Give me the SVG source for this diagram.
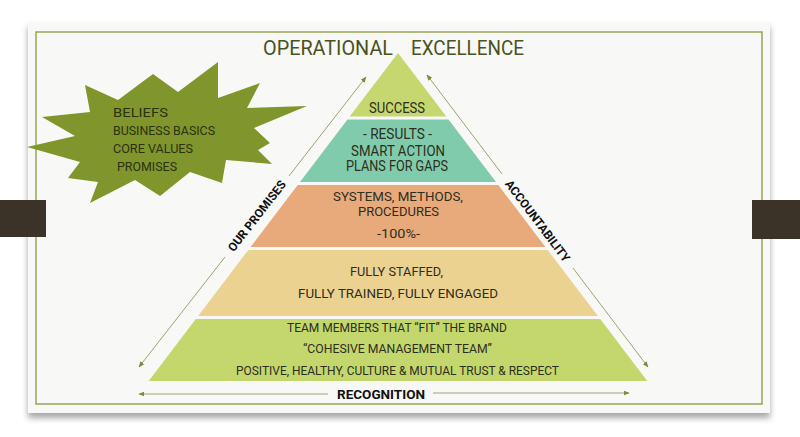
<svg xmlns="http://www.w3.org/2000/svg" width="800" height="437" viewBox="0 0 800 437">
<defs>
<filter id="sh" x="-5%" y="-5%" width="110%" height="115%">
<feDropShadow dx="0" dy="5" stdDeviation="3" flood-color="#000" flood-opacity="0.35"/>
</filter>
<marker id="ah" viewBox="0 0 10 10" refX="9" refY="5" markerWidth="6" markerHeight="6" orient="auto" markerUnits="userSpaceOnUse">
<path d="M0,1 L10,5 L0,9 z" fill="#7d8a3a"/>
</marker>
</defs>
<style>
.t{font-family:Roboto,"Liberation Sans",sans-serif;fill:#2e2e1e;text-anchor:middle}
.tt{font-family:Roboto,"Liberation Sans",sans-serif;fill:#4a5320;font-size:20px}
.sb{font-family:Roboto,"Liberation Sans",sans-serif;fill:#2c3210;font-size:13px}
.lb{font-family:Roboto,"Liberation Sans",sans-serif;fill:#111;font-size:12px;font-weight:bold;text-anchor:middle;dominant-baseline:central}
.cn{stroke:#9ea373;stroke-width:1;fill:none;marker-end:url(#ah)}
</style>
<rect width="800" height="437" fill="#ffffff"/>
<g id="card">
<rect x="28" y="22" width="742" height="391" fill="#f8f8f7" filter="url(#sh)"/>
<rect x="36" y="32" width="726" height="372" fill="none" stroke="#9aa257" stroke-width="1.5"/>
</g>
<g id="bars">
<rect x="0" y="200" width="46" height="37" fill="#3b3228"/>
<rect x="752" y="200" width="48" height="39" fill="#3b3228"/>
</g>
<g id="title">
<text class="tt" x="263" y="55" textLength="130" lengthAdjust="spacingAndGlyphs">OPERATIONAL</text>
<text class="tt" x="411" y="55" textLength="113" lengthAdjust="spacingAndGlyphs">EXCELLENCE</text>
</g>
<g id="starburst">
<polygon points="85,85 118,100 153,74 178,92 218,62 218,98 260,83 247,108 307,106 254,128 270,143 258,150 272,164 226,160 222,183 190,172 160,196 135,180 90,203 98,182 68,178 80,162 27,147 75,136 42,117 90,112" fill="#80952b"/>
<text class="sb" x="113" y="117" textLength="55" lengthAdjust="spacingAndGlyphs">BELIEFS</text>
<text class="sb" x="113" y="135" textLength="102" lengthAdjust="spacingAndGlyphs">BUSINESS BASICS</text>
<text class="sb" x="113" y="153" textLength="80" lengthAdjust="spacingAndGlyphs">CORE VALUES</text>
<text class="sb" x="117" y="171" textLength="60" lengthAdjust="spacingAndGlyphs">PROMISES</text>
</g>
<g id="success">
<polygon points="398,53 446.3,116.5 349.7,116.5" fill="#c5d76e"/>
<text class="t" x="397" y="113" font-size="14" textLength="56" lengthAdjust="spacingAndGlyphs">SUCCESS</text>
</g>
<g id="results">
<polygon points="347.5,119.5 448.5,119.5 496,182 300,182" fill="#80cbab"/>
<text class="t" x="397.5" y="139" font-size="14" textLength="69" lengthAdjust="spacingAndGlyphs">- RESULTS -</text>
<text class="t" x="398" y="156" font-size="14" textLength="94" lengthAdjust="spacingAndGlyphs">SMART ACTION</text>
<text class="t" x="397" y="171" font-size="14" textLength="102" lengthAdjust="spacingAndGlyphs">PLANS FOR GAPS</text>
</g>
<g id="systems">
<polygon points="297.7,185 498.3,185 545.4,247 250.6,247" fill="#e9aa7b"/>
<text class="t" x="398" y="201" font-size="13.5" textLength="130" lengthAdjust="spacingAndGlyphs">SYSTEMS, METHODS,</text>
<text class="t" x="398.5" y="216" font-size="13.5" textLength="81" lengthAdjust="spacingAndGlyphs">PROCEDURES</text>
<text class="t" x="398.5" y="238" font-size="13.5" textLength="43" lengthAdjust="spacingAndGlyphs">-100%-</text>
</g>
<g id="staffed">
<polygon points="248.3,250 547.7,250 597.9,316 198.1,316" fill="#ebd290"/>
<text class="t" x="396.5" y="276" font-size="13.5" textLength="93" lengthAdjust="spacingAndGlyphs">FULLY STAFFED,</text>
<text class="t" x="398" y="298" font-size="13.5" textLength="200" lengthAdjust="spacingAndGlyphs">FULLY TRAINED, FULLY ENGAGED</text>
</g>
<g id="team">
<polygon points="195.8,319 600.2,319 647.3,381 148.7,381" fill="#c3d76c"/>
<text class="t" x="397" y="332" font-size="12" textLength="220" lengthAdjust="spacingAndGlyphs">TEAM MEMBERS THAT “FIT” THE BRAND</text>
<text class="t" x="397.5" y="353" font-size="12" textLength="189" lengthAdjust="spacingAndGlyphs">“COHESIVE MANAGEMENT TEAM”</text>
<text class="t" x="397.5" y="375" font-size="12" textLength="323" lengthAdjust="spacingAndGlyphs">POSITIVE, HEALTHY, CULTURE &amp; MUTUAL TRUST &amp; RESPECT</text>
</g>
<g id="connectors">
<line class="cn" x1="225" y1="257" x2="139" y2="367"/>
<line class="cn" x1="289" y1="176" x2="366" y2="77"/>
<line class="cn" x1="502" y1="174" x2="427" y2="75"/>
<line class="cn" x1="573" y1="268" x2="648" y2="367"/>
<line class="cn" x1="328" y1="394" x2="139" y2="394"/>
<line class="cn" x1="433" y1="393" x2="629" y2="393"/>
</g>
<g id="our-promises">
<text class="lb" transform="translate(257,216) rotate(-52)">OUR PROMISES</text>
</g>
<g id="accountability">
<text class="lb" transform="translate(537.5,221) rotate(53)">ACCOUNTABILITY</text>
</g>
<g id="recognition">
<text class="lb" x="381" y="395" font-size="12.5" textLength="88" lengthAdjust="spacingAndGlyphs">RECOGNITION</text>
</g>
</svg>
